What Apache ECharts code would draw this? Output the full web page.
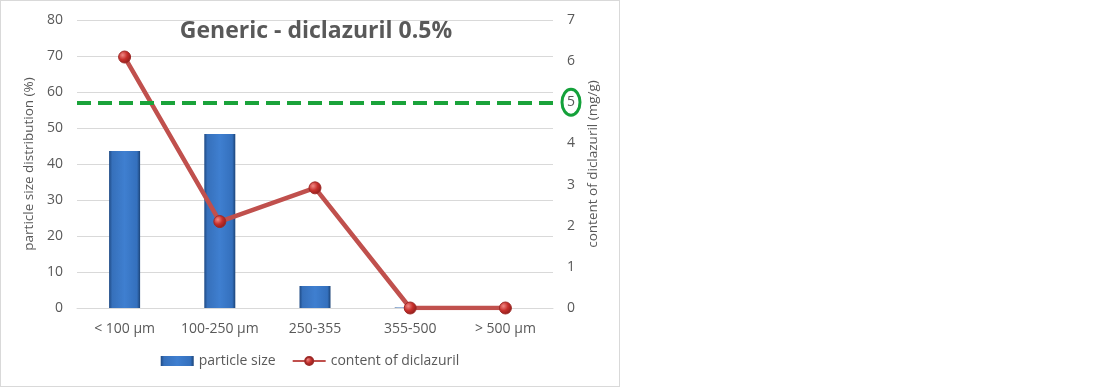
<!DOCTYPE html>
<html><head><meta charset="utf-8">
<script src="https://cdn.jsdelivr.net/npm/echarts@6/dist/echarts.min.js"></script>
<style>
html,body{margin:0;padding:0;background:#fff;}
#wrap{position:absolute;left:0;top:0;width:618px;height:385px;border:1px solid #d9d9d9;}
#c{width:618px;height:385px;}
</style></head>
<body><div id="wrap"><div id="c"></div></div>
<script>
const categories = ['< 100 µm', '100-250 µm', '250-355', '355-500', '> 500 µm'];
const particleSize = [43.6, 48.3, 6.1, 0.15, 0];
const diclazurilContent = [6.1, 2.1, 2.92, 0, 0];
const limitValue = 5;
const leftTicks = {min: 0, max: 80, interval: 10};
const rightTicks = {min: 0, max: 7, interval: 1};

const font = '"Open Sans", "Noto Sans", sans-serif';
const chart = echarts.init(document.getElementById('c'));
const option = {
  animation: false,
  textStyle: {fontFamily: font},
  title: {text: 'Generic - diclazuril 0.5%', left: 310, top: 14, textAlign: 'center',
    textStyle: {fontSize: 23, fontWeight: 'bold', color: '#595959', fontFamily: font}},
  grid: {left: 76, right: 66, top: 19, bottom: 78},
  legend: {bottom: 13, left: 'center', itemGap: 16, itemWidth: 33, itemHeight: 10,
    textStyle: {color: '#595959', fontSize: 14, fontFamily: font},
    data: [{name: 'particle size', icon: 'rect'}, {name: 'content of diclazuril'}]},
  xAxis: {type: 'category', data: categories,
    axisLine: {lineStyle: {color: '#d9d9d9'}}, axisTick: {show: false},
    axisLabel: {color: '#595959', fontSize: 14, margin: 14, interval: 0}},
  yAxis: [
    {type: 'value', min: leftTicks.min, max: leftTicks.max, interval: leftTicks.interval,
      name: 'particle size distribution (%)', nameLocation: 'middle', nameGap: 32,
      nameTextStyle: {color: '#595959', fontSize: 13.5},
      axisLabel: {color: '#595959', fontSize: 14, margin: 14},
      splitLine: {lineStyle: {color: '#d9d9d9'}}, axisLine: {show: false}, axisTick: {show: false}},
    {type: 'value', min: rightTicks.min, max: rightTicks.max, interval: rightTicks.interval,
      name: 'content of diclazuril (mg/g)', nameLocation: 'middle', nameGap: 32, nameRotate: 90,
      nameTextStyle: {color: '#595959', fontSize: 13.5},
      axisLabel: {color: '#595959', fontSize: 14, margin: 14},
      splitLine: {show: false}, axisLine: {show: false}, axisTick: {show: false}}
  ],
  series: [
    {name: 'particle size', type: 'bar', yAxisIndex: 0, data: particleSize, barWidth: 31,
      itemStyle: {
        color: new echarts.graphic.LinearGradient(0, 0, 1, 0, [
          {offset: 0, color: '#1f4a84'}, {offset: 0.1, color: '#3670bb'},
          {offset: 0.5, color: '#3f7fd0'}, {offset: 0.9, color: '#3470bd'}, {offset: 1, color: '#1c4478'}])}},
    {name: 'content of diclazuril', type: 'line', yAxisIndex: 1, data: diclazurilContent,
      lineStyle: {color: '#c0504d', width: 4.5}, symbol: 'circle', symbolSize: 12,
      itemStyle: {color: new echarts.graphic.RadialGradient(0.35, 0.35, 0.7, [
          {offset: 0, color: '#f08a86'}, {offset: 0.5, color: '#c7302c'}, {offset: 1, color: '#8a1c1a'}]),
        borderColor: '#9e2a27', borderWidth: 1},
      markLine: {silent: true, symbol: 'none', label: {show: false},
        lineStyle: {color: '#1aa33a', type: [14, 7], width: 4},
        data: [{yAxis: limitValue}]}}
  ]
};
chart.setOption(option);
const py = chart.convertToPixel({yAxisIndex: 1}, limitValue);
const gr = chart.getModel().getComponent('grid').coordinateSystem.getRect();
chart.setOption({graphic: [{type: 'ellipse', shape: {cx: gr.x + gr.width + 18, cy: py, rx: 9, ry: 13},
  style: {fill: 'none', stroke: '#14a13a', lineWidth: 3}}]});
</script></body></html>
